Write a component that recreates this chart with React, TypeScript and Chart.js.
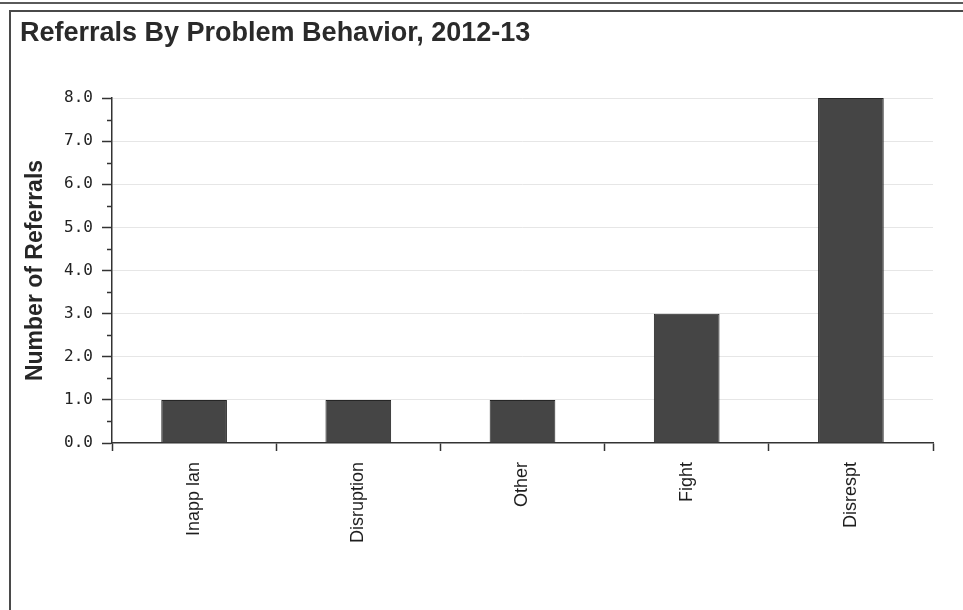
import React, { useEffect, useRef } from "react";
import { Chart, registerables } from "chart.js";

Chart.register(...registerables);

const categories = ["Inapp lan", "Disruption", "Other", "Fight", "Disrespt"];
const referrals = [1, 1, 1, 3, 8];
const yMin = 0;
const yMax = 8;
const yStep = 0.5;

const isMajor = (v: number) => Math.abs(v - Math.round(v)) < 1e-6;

// Short tick marks at the half-unit values on the value axis
const minorTicks = {
  id: "minorTicks",
  afterDraw(chart: any) {
    const y = chart.scales.y;
    const ctx = chart.ctx;
    ctx.save();
    ctx.strokeStyle = "#333";
    ctx.lineWidth = 1.5;
    y.ticks.forEach((t: any) => {
      if (isMajor(t.value)) return;
      const py = Math.round(y.getPixelForValue(t.value)) + 0.5;
      ctx.beginPath();
      ctx.moveTo(y.right - 5, py);
      ctx.lineTo(y.right, py);
      ctx.stroke();
    });
    ctx.restore();
  },
};

export default function App() {
  const ref = useRef<HTMLCanvasElement | null>(null);

  useEffect(() => {
    if (!ref.current) return;
    const chart = new Chart(ref.current, {
      type: "bar",
      data: {
        labels: categories,
        datasets: [
          {
            data: referrals,
            backgroundColor: "#454545",
            borderColor: "#262626",
            borderWidth: 1,
            barPercentage: 0.4,
            categoryPercentage: 1,
          },
        ],
      },
      plugins: [minorTicks],
      options: {
        animation: false,
        responsive: false,
        maintainAspectRatio: false,
        layout: { padding: { left: 8, right: 30, top: 0, bottom: 0 } },
        plugins: {
          legend: { display: false },
          tooltip: { enabled: false },
          title: {
            display: true,
            text: "Referrals By Problem Behavior, 2012-13",
            align: "start",
            color: "#2a2a2a",
            font: { family: "Liberation Sans, Arial, sans-serif", size: 27, weight: "bold" },
            padding: { top: 3, bottom: 48.6 },
          },
        },
        scales: {
          x: {
            type: "category",
            offset: true,
            grid: {
              offset: true,
              drawOnChartArea: false,
              drawTicks: true,
              tickLength: 8,
              tickColor: "#333",
              tickWidth: 1.5,
            },
            border: { color: "#333", width: 1.5 },
            ticks: {
              minRotation: 90,
              maxRotation: 90,
              padding: 11,
              color: "#1e1e1e",
              font: { family: "Liberation Sans, Arial, sans-serif", size: 18 },
            },
            afterFit: (s: any) => {
              s.height = 167;
            },
          },
          y: {
            min: yMin,
            max: yMax,
            grid: {
              color: (c: any) => (c.tick && isMajor(c.tick.value) && c.tick.value !== 0 ? "#e6e6e6" : "transparent"),
              tickColor: (c: any) => (c.tick && isMajor(c.tick.value) ? "#333" : "transparent"),
              tickLength: 10,
              tickWidth: 1.5,
              lineWidth: 1,
            },
            border: { color: "#333", width: 1.5 },
            ticks: {
              stepSize: yStep,
              autoSkip: false,
              padding: 9,
              color: "#222",
              font: { family: "DejaVu Sans Mono, monospace", size: 16 },
              callback: (v: any) => (isMajor(Number(v)) ? Number(v).toFixed(1) : ""),
            },
            title: {
              display: true,
              text: "Number of Referrals",
              color: "#262626",
              font: { family: "Liberation Sans, Arial, sans-serif", size: 23, weight: "bold" },
              padding: { top: 2, bottom: 0 },
            },
            afterFit: (s: any) => {
              s.width = 92;
            },
          },
        },
      },
    });
    return () => chart.destroy();
  }, []);

  return (
    <div style={{ position: "fixed", left: 0, top: 0, width: 963, height: 610, background: "#fff", overflow: "hidden" }}>
      <div style={{ position: "absolute", left: 0, top: 2, width: 963, height: 2, background: "#5a5a5a" }} />
      <div
        style={{
          position: "absolute",
          left: 9,
          top: 10,
          width: 980,
          height: 620,
          borderLeft: "2px solid #4a4a4a",
          borderTop: "2px solid #4a4a4a",
        }}
      />
      <canvas ref={ref} width={951} height={596} style={{ position: "absolute", left: 12, top: 14, width: 951, height: 596 }} />
    </div>
  );
}
